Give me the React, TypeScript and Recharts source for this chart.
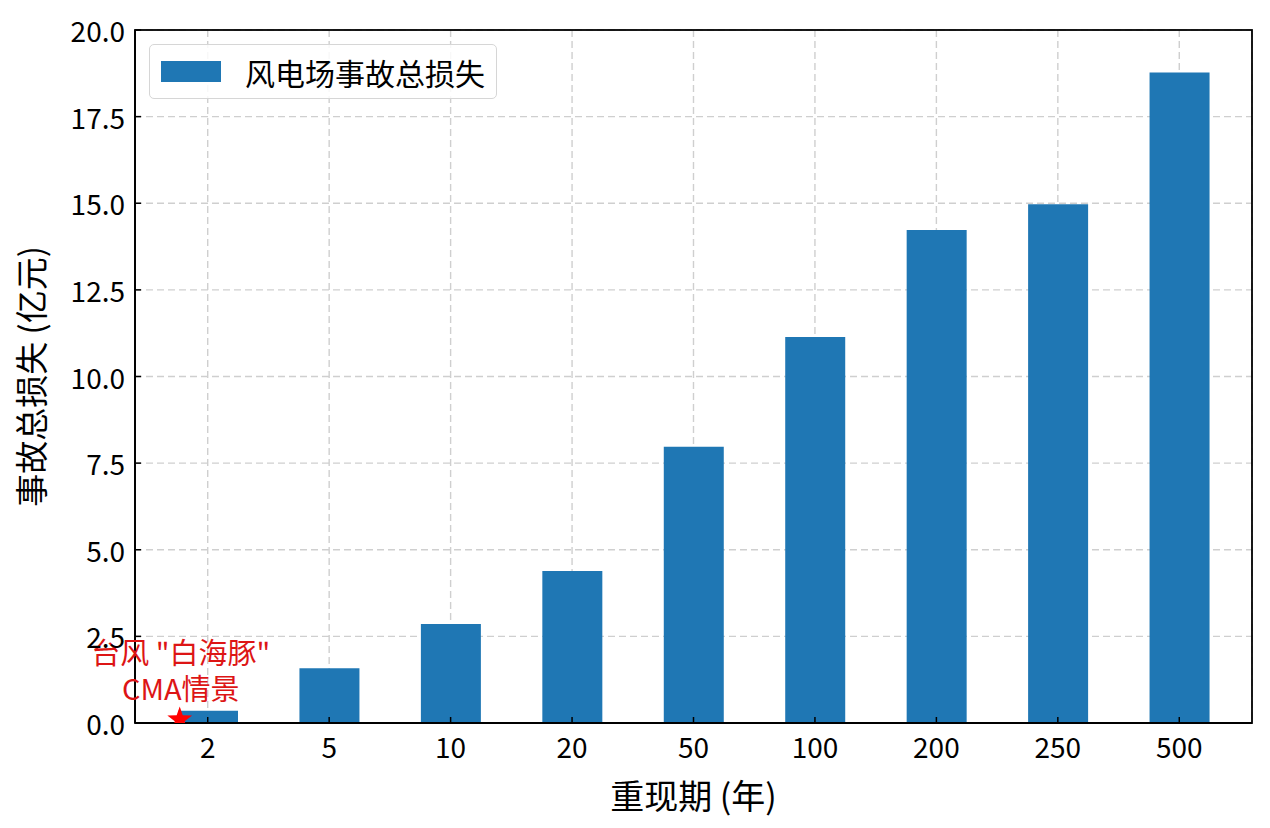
import React from "react";
import * as RC from "recharts";
import {
  Bar,
  BarChart,
  CartesianGrid,
  ReferenceDot,
  XAxis,
  YAxis,
} from "recharts";

// return period (years) and total wind-farm accident loss (100M CNY)
const PERIODS = ["2", "5", "10", "20", "50", "100", "200", "250", "500"];
const LOSSES = [0.35, 1.58, 2.86, 4.39, 7.97, 11.14, 14.23, 14.97, 18.77];
const Y_TICKS = [0, 2.5, 5, 7.5, 10, 12.5, 15, 17.5, 20];

// typhoon "白海豚" CMA scenario marker
const SCENARIO_PERIOD = "2";
const SCENARIO_LOSS = 0.1;
const SCENARIO_LINES = ['台风 "白海豚"', "CMA情景"];

const data = PERIODS.map((p, i) => ({ period: p, loss: LOSSES[i] }));

const FONT = '"Noto Sans CJK SC", "Noto Sans", sans-serif';
const BAR_COLOR = "#1f77b4";
const RED = "#dd1515";

const usePlotAreaSafe: () => any = (RC as any).usePlotArea ?? (() => null);

function YTick({ x, y, payload }: any) {
  return (
    <g>
      <line x1={x} x2={x + 6} y1={y} y2={y} stroke="#000" strokeWidth={1.5} />
      <text
        x={x - 10}
        y={y}
        textAnchor="end"
        dominantBaseline="central"
        fontSize={28}
        fontFamily={FONT}
        fill="#000"
      >
        {Number(payload.value).toFixed(1)}
      </text>
    </g>
  );
}

function XTick({ x, y, payload }: any) {
  return (
    <g>
      <line x1={x} x2={x} y1={y} y2={y - 6} stroke="#000" strokeWidth={1.5} />
      <text
        x={x}
        y={y + 23}
        textAnchor="middle"
        dominantBaseline="central"
        fontSize={28}
        fontFamily={FONT}
        fill="#000"
      >
        {payload.value}
      </text>
    </g>
  );
}

function starPath(cx: number, cy: number, r: number) {
  const pts: string[] = [];
  for (let i = 0; i < 10; i++) {
    const rad = i % 2 === 0 ? r : r * 0.4;
    const a = -Math.PI / 2 + (i * Math.PI) / 5;
    pts.push(`${cx + rad * Math.cos(a)},${cy + rad * Math.sin(a)}`);
  }
  return `M${pts.join("L")}Z`;
}

// marker sits a bit left of the "2" bar centre
const STAR_DX = -28;

function Star({ cx, cy }: any) {
  const area = usePlotAreaSafe();
  return (
    <g>
      {area && (
        <defs>
          <clipPath id="star-clip">
            <rect x={area.x} y={area.y} width={area.width} height={area.height} />
          </clipPath>
        </defs>
      )}
      <path
        d={starPath(cx + STAR_DX, cy, 13)}
        fill="red"
        clipPath={area ? "url(#star-clip)" : undefined}
      />
    </g>
  );
}

function ScenarioText({ cx, cy }: any) {
  return (
    <g>
      {SCENARIO_LINES.map((t, i) => (
        <text
          key={t}
          x={cx + STAR_DX + 1}
          y={cy - 69 + i * 36}
          textAnchor="middle"
          dominantBaseline="central"
          fontSize={29}
          fontFamily={FONT}
          fill={RED}
        >
          {t}
        </text>
      ))}
    </g>
  );
}

// black box around the plot area (matplotlib-style spines)
function Frame() {
  const area = usePlotAreaSafe();
  if (!area) return null;
  return (
    <rect
      x={area.x}
      y={area.y}
      width={area.width}
      height={area.height}
      fill="none"
      stroke="#000"
      strokeWidth={1.8}
    />
  );
}

export default function App() {
  return (
    <div style={{ position: "absolute", left: 0, top: 0, width: 1270, height: 828, background: "#fff" }}>
      <BarChart
        width={1270}
        height={828}
        data={data}
        margin={{ top: 30, right: 18, bottom: 0, left: 0 }}
      >
        <CartesianGrid stroke="#cfcfcf" strokeWidth={1.4} strokeDasharray="7 4" />
        <XAxis
          dataKey="period"
          height={105}
          padding={{ left: 12, right: 12 }}
          axisLine={{ stroke: "#000", strokeWidth: 1.8 }}
          tickLine={false}
          tickSize={0}
          tickMargin={0}
          tick={<XTick />}
          interval={0}
          label={{
            value: "重现期 (年)",
            position: "insideBottom",
            offset: 19,
            fontSize: 34,
            fontFamily: FONT,
            fill: "#000",
          }}
        />
        <YAxis
          width={135}
          domain={[0, 20]}
          ticks={Y_TICKS}
          axisLine={{ stroke: "#000", strokeWidth: 1.8 }}
          tickLine={false}
          tickSize={0}
          tickMargin={0}
          tick={<YTick />}
          interval={0}
          label={{
            value: "事故总损失 (亿元)",
            angle: -90,
            position: "insideLeft",
            offset: 32,
            style: { textAnchor: "middle" },
            fontSize: 33,
            fontFamily: FONT,
            fill: "#000",
          }}
        />
        <Bar dataKey="loss" fill={BAR_COLOR} barSize={60} isAnimationActive={false} />
        <ReferenceDot
          x={SCENARIO_PERIOD}
          y={SCENARIO_LOSS}
          ifOverflow="visible"
          shape={<ScenarioText />}
        />
        <ReferenceDot
          x={SCENARIO_PERIOD}
          y={SCENARIO_LOSS}
          ifOverflow="visible"
          shape={<Star />}
        />
        <Frame />
      </BarChart>
      <div
        style={{
          position: "absolute",
          left: 149,
          top: 44,
          width: 348,
          height: 55,
          border: "1.5px solid #d6d6d6",
          borderRadius: 5,
          background: "rgba(255,255,255,0.85)",
          display: "flex",
          alignItems: "center",
          fontFamily: FONT,
          fontSize: 30,
          color: "#000",
          boxSizing: "border-box",
        }}
      >
        <span
          style={{
            display: "inline-block",
            width: 60,
            height: 21,
            background: BAR_COLOR,
            marginLeft: 11,
            marginRight: 24,
          }}
        />
        风电场事故总损失
      </div>
    </div>
  );
}
